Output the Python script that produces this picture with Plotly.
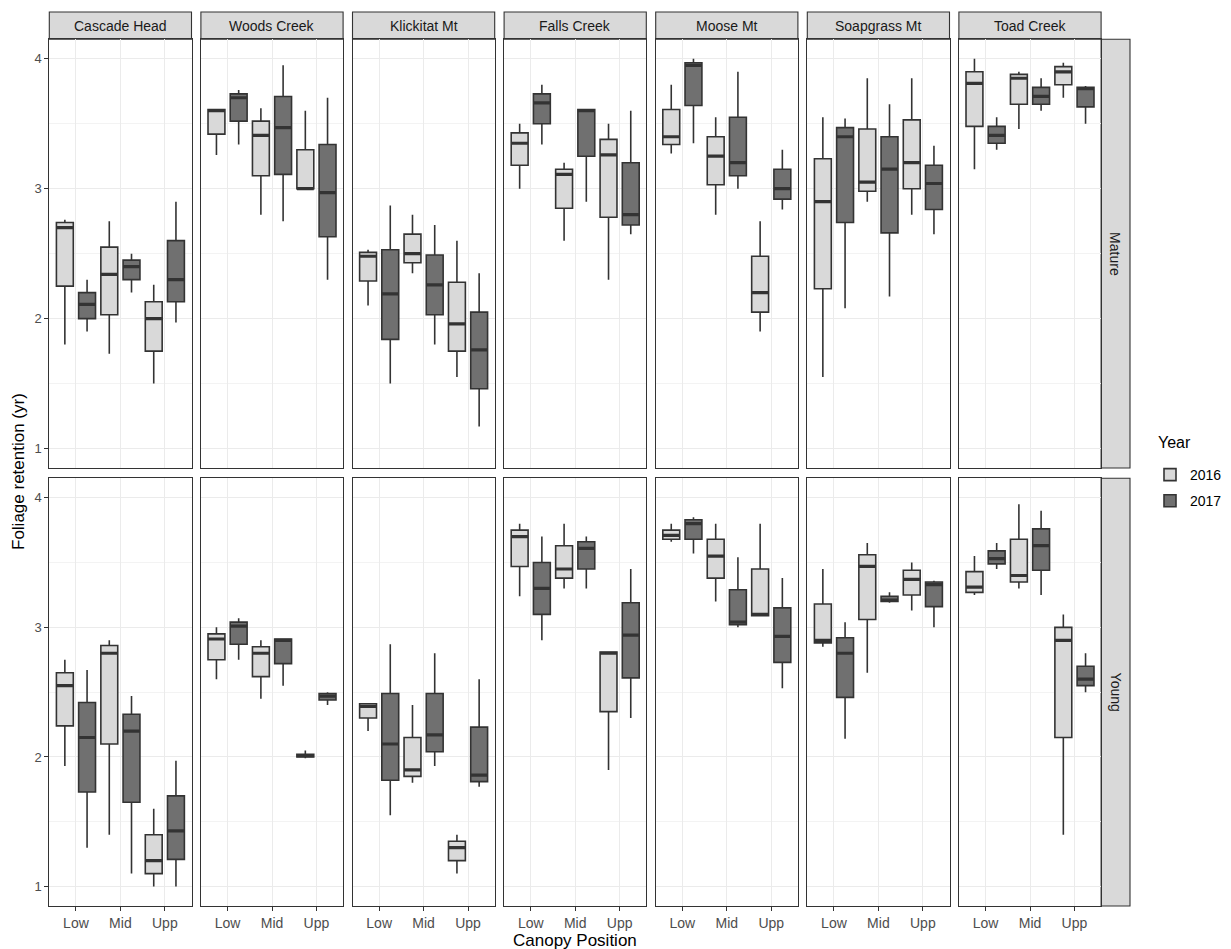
import plotly.graph_objects as go

# ---- categories -------------------------------------------------------------
SITES = ["Cascade Head", "Woods Creek", "Klickitat Mt", "Falls Creek",
         "Moose Mt", "Soapgrass Mt", "Toad Creek"]
STANDS = ["Mature", "Young"]
POSITIONS = ["Low", "Mid", "Upp"]
YEARS = ["2016", "2017"]
Y_TICKS = [1, 2, 3, 4]

# ---- box statistics: one [Low, Mid, Upp] triple per site --------------------
# Mature stands, 2016
MATURE_2016_LO = [[1.80, 1.73, 1.50], [3.26, 2.80, 3.00], [2.10, 2.35, 1.55], [3.00, 2.60, 2.30],
                  [3.27, 2.80, 1.90], [1.55, 2.90, 2.80], [3.15, 3.46, 3.70]]
MATURE_2016_Q1 = [[2.25, 2.03, 1.75], [3.42, 3.10, 3.00], [2.29, 2.43, 1.75], [3.18, 2.85, 2.78],
                  [3.34, 3.03, 2.05], [2.23, 2.98, 3.00], [3.48, 3.65, 3.80]]
MATURE_2016_MED = [[2.70, 2.34, 2.00], [3.60, 3.41, 3.00], [2.48, 2.50, 1.96], [3.35, 3.11, 3.26],
                   [3.40, 3.25, 2.20], [2.90, 3.05, 3.20], [3.81, 3.85, 3.90]]
MATURE_2016_Q3 = [[2.74, 2.55, 2.13], [3.61, 3.52, 3.30], [2.51, 2.65, 2.28], [3.43, 3.15, 3.38],
                  [3.61, 3.40, 2.48], [3.23, 3.46, 3.53], [3.90, 3.88, 3.94]]
MATURE_2016_HI = [[2.76, 2.75, 2.26], [3.61, 3.62, 3.60], [2.53, 2.80, 2.60], [3.50, 3.20, 3.50],
                  [3.80, 3.55, 2.75], [3.55, 3.85, 3.85], [4.00, 3.90, 3.97]]

# Mature stands, 2017
MATURE_2017_LO = [[1.90, 2.20, 1.97], [3.34, 2.75, 2.30], [1.50, 1.80, 1.17], [3.34, 2.90, 2.65],
                  [3.35, 3.00, 2.84], [2.08, 2.17, 2.65], [3.30, 3.60, 3.50]]
MATURE_2017_Q1 = [[2.00, 2.30, 2.13], [3.52, 3.11, 2.63], [1.84, 2.03, 1.46], [3.50, 3.25, 2.72],
                  [3.64, 3.10, 2.92], [2.74, 2.66, 2.84], [3.35, 3.65, 3.63]]
MATURE_2017_MED = [[2.11, 2.40, 2.30], [3.70, 3.47, 2.97], [2.19, 2.26, 1.76], [3.66, 3.60, 2.80],
                   [3.95, 3.20, 3.00], [3.40, 3.15, 3.04], [3.41, 3.71, 3.77]]
MATURE_2017_Q3 = [[2.20, 2.45, 2.60], [3.73, 3.71, 3.34], [2.53, 2.49, 2.05], [3.73, 3.61, 3.20],
                  [3.97, 3.55, 3.15], [3.47, 3.40, 3.18], [3.48, 3.78, 3.78]]
MATURE_2017_HI = [[2.30, 2.50, 2.90], [3.76, 3.95, 3.70], [2.87, 2.72, 2.35], [3.80, 3.61, 3.60],
                  [4.00, 3.90, 3.30], [3.54, 3.65, 3.33], [3.55, 3.85, 3.79]]

# Young stands, 2016
YOUNG_2016_LO = [[1.93, 1.40, 1.00], [2.60, 2.45, 1.99], [2.20, 1.80, 1.10], [3.24, 3.30, 1.90],
                 [3.66, 3.20, 3.09], [2.85, 2.65, 3.13], [3.25, 3.30, 1.40]]
YOUNG_2016_Q1 = [[2.24, 2.10, 1.10], [2.75, 2.62, 2.00], [2.30, 1.85, 1.20], [3.47, 3.38, 2.35],
                 [3.68, 3.38, 3.09], [2.88, 3.06, 3.25], [3.27, 3.35, 2.15]]
YOUNG_2016_MED = [[2.55, 2.80, 1.20], [2.91, 2.80, 2.01], [2.39, 1.90, 1.30], [3.70, 3.45, 2.80],
                  [3.71, 3.55, 3.10], [2.90, 3.47, 3.37], [3.31, 3.40, 2.90]]
YOUNG_2016_Q3 = [[2.65, 2.86, 1.40], [2.95, 2.85, 2.02], [2.41, 2.15, 1.35], [3.75, 3.63, 2.81],
                 [3.75, 3.68, 3.45], [3.18, 3.56, 3.44], [3.43, 3.68, 3.00]]
YOUNG_2016_HI = [[2.75, 2.90, 1.60], [3.00, 2.90, 2.05], [2.41, 2.40, 1.40], [3.80, 3.80, 2.81],
                 [3.80, 3.80, 3.80], [3.45, 3.65, 3.50], [3.55, 3.95, 3.10]]

# Young stands, 2017
YOUNG_2017_LO = [[1.30, 1.10, 1.00], [2.75, 2.55, 2.40], [1.55, 1.93, 1.77], [2.90, 3.30, 2.30],
                 [3.57, 3.00, 2.53], [2.14, 3.19, 3.00], [3.45, 3.25, 2.50]]
YOUNG_2017_Q1 = [[1.73, 1.65, 1.21], [2.87, 2.72, 2.44], [1.82, 2.04, 1.81], [3.10, 3.45, 2.61],
                 [3.68, 3.02, 2.73], [2.46, 3.20, 3.16], [3.49, 3.44, 2.55]]
YOUNG_2017_MED = [[2.15, 2.20, 1.43], [3.01, 2.90, 2.47], [2.10, 2.17, 1.86], [3.30, 3.61, 2.94],
                  [3.80, 3.04, 2.93], [2.80, 3.21, 3.33], [3.53, 3.63, 2.60]]
YOUNG_2017_Q3 = [[2.42, 2.33, 1.70], [3.04, 2.91, 2.49], [2.49, 2.49, 2.23], [3.50, 3.66, 3.19],
                 [3.83, 3.29, 3.15], [2.92, 3.24, 3.35], [3.59, 3.76, 2.70]]
YOUNG_2017_HI = [[2.67, 2.47, 1.97], [3.07, 2.91, 2.50], [2.87, 2.80, 2.60], [3.70, 3.70, 3.45],
                 [3.85, 3.54, 3.38], [3.04, 3.27, 3.36], [3.65, 3.90, 2.80]]

STATS = {
    ("Mature", "2016"): (MATURE_2016_LO, MATURE_2016_Q1, MATURE_2016_MED, MATURE_2016_Q3, MATURE_2016_HI),
    ("Mature", "2017"): (MATURE_2017_LO, MATURE_2017_Q1, MATURE_2017_MED, MATURE_2017_Q3, MATURE_2017_HI),
    ("Young", "2016"): (YOUNG_2016_LO, YOUNG_2016_Q1, YOUNG_2016_MED, YOUNG_2016_Q3, YOUNG_2016_HI),
    ("Young", "2017"): (YOUNG_2017_LO, YOUNG_2017_Q1, YOUNG_2017_MED, YOUNG_2017_Q3, YOUNG_2017_HI),
}

# ---- styling ----------------------------------------------------------------
W, H = 1231, 949
FILL = {"2016": "#D9D9D9", "2017": "#707070"}
EDGE = "#333333"
FONT = "Liberation Sans, Arial, Helvetica, sans-serif"

# panel geometry in pixels
PANEL_X0, PANEL_STEP, PANEL_W = 49.3, 151.6, 142.2
ROW_Y = [(39.3, 468.0), (478.3, 906.0)]   # top/bottom pixel edges per row
STRIP_TOP = 12.0
STRIP_RIGHT = 1130.0


def px_x(x):
    return x / W


def px_y(y):
    return (H - y) / H


fig = go.Figure()
layout = dict(
    width=W, height=H,
    margin=dict(l=0, r=0, t=0, b=0),
    paper_bgcolor="white", plot_bgcolor="white",
    boxmode="group", boxgap=0.0, boxgroupgap=0.24,
    font=dict(family=FONT, color="#000000"),
    showlegend=True,
)
shapes, annotations = [], []

for r, stand in enumerate(STANDS):
    y_top, y_bot = ROW_Y[r]
    for c, site in enumerate(SITES):
        n = r * len(SITES) + c + 1
        xa = "x" if n == 1 else f"x{n}"
        ya = "y" if n == 1 else f"y{n}"
        x0 = PANEL_X0 + c * PANEL_STEP
        x1 = x0 + PANEL_W

        for year in YEARS:
            lo, q1, med, q3, hi = STATS[(stand, year)]
            fig.add_trace(go.Box(
                x=POSITIONS, q1=q1[c], median=med[c], q3=q3[c],
                lowerfence=lo[c], upperfence=hi[c],
                name=year, legendgroup=year, showlegend=(n == 1),
                offsetgroup=year, alignmentgroup=f"g{n}",
                fillcolor=FILL[year], line=dict(color=EDGE, width=1.6),
                whiskerwidth=0, boxpoints=False,
                xaxis=xa, yaxis=ya, hoverinfo="skip",
            ))
            # heavier median bar drawn on top of each box
            fig.add_trace(go.Box(
                x=POSITIONS, q1=med[c], median=med[c], q3=med[c],
                lowerfence=med[c], upperfence=med[c],
                name=year, legendgroup=year, showlegend=False,
                offsetgroup=year, alignmentgroup=f"g{n}",
                fillcolor="rgba(0,0,0,0)", line=dict(color=EDGE, width=3.2),
                whiskerwidth=0, boxpoints=False,
                xaxis=xa, yaxis=ya, hoverinfo="skip",
            ))

        layout["xaxis" if n == 1 else f"xaxis{n}"] = dict(
            domain=[px_x(x0), px_x(x1)], anchor=ya,
            type="category", categoryorder="array", categoryarray=POSITIONS,
            range=[-0.6, 2.6],
            showgrid=True, gridcolor="#EBEBEB", gridwidth=1.1,
            showline=True, linecolor=EDGE, linewidth=1.1, mirror=True,
            zeroline=False, fixedrange=True,
            showticklabels=(r == 1),
            ticks="outside" if r == 1 else "", ticklen=4, tickcolor=EDGE, tickwidth=1.1,
            tickfont=dict(size=14, color="#4D4D4D", family=FONT),
        )
        layout["yaxis" if n == 1 else f"yaxis{n}"] = dict(
            domain=[px_y(y_bot), px_y(y_top)], anchor=xa,
            range=[0.85, 4.15], tickvals=Y_TICKS,
            showgrid=True, gridcolor="#EBEBEB", gridwidth=1.1,
            minor=dict(dtick=0.5, tick0=0.5, showgrid=True, gridcolor="#F3F3F3", gridwidth=0.7),
            showline=True, linecolor=EDGE, linewidth=1.1, mirror=True,
            zeroline=False, fixedrange=True,
            showticklabels=(c == 0),
            ticks="outside" if c == 0 else "", ticklen=4, tickcolor=EDGE, tickwidth=1.1,
            tickfont=dict(size=13, color="#4D4D4D", family=FONT),
        )

        # column strip with the site name
        if r == 0:
            shapes.append(dict(type="rect", xref="paper", yref="paper",
                               x0=px_x(x0), x1=px_x(x1), y0=px_y(y_top), y1=px_y(STRIP_TOP),
                               fillcolor="#D9D9D9", line=dict(color=EDGE, width=1.1), layer="below"))
            annotations.append(dict(text=site, xref="paper", yref="paper",
                                    x=px_x((x0 + x1) / 2), y=px_y((STRIP_TOP + y_top) / 2),
                                    showarrow=False, xanchor="center", yanchor="middle",
                                    font=dict(size=14, color="#1A1A1A", family=FONT)))

    # row strip with the stand type
    last_x1 = PANEL_X0 + (len(SITES) - 1) * PANEL_STEP + PANEL_W
    shapes.append(dict(type="rect", xref="paper", yref="paper",
                       x0=px_x(last_x1), x1=px_x(STRIP_RIGHT), y0=px_y(y_bot), y1=px_y(y_top),
                       fillcolor="#D9D9D9", line=dict(color=EDGE, width=1.1), layer="below"))
    annotations.append(dict(text=stand, xref="paper", yref="paper",
                            x=px_x((last_x1 + STRIP_RIGHT) / 2), y=px_y((y_top + y_bot) / 2),
                            showarrow=False, textangle=90, xanchor="center", yanchor="middle",
                            font=dict(size=14, color="#1A1A1A", family=FONT)))

# axis titles
annotations.append(dict(text="Canopy Position", xref="paper", yref="paper",
                        x=px_x(575), y=px_y(940), showarrow=False,
                        xanchor="center", yanchor="middle",
                        font=dict(size=17, color="#000000", family=FONT)))
annotations.append(dict(text="Foliage retention (yr)", xref="paper", yref="paper",
                        x=px_x(18), y=px_y(472), showarrow=False, textangle=-90,
                        xanchor="center", yanchor="middle",
                        font=dict(size=17, color="#000000", family=FONT)))

# legend title placed by hand so the key rows sit a little lower
annotations.append(dict(text="Year", xref="paper", yref="paper",
                        x=px_x(1156), y=px_y(443), showarrow=False,
                        xanchor="left", yanchor="middle",
                        font=dict(size=16, color="#000000", family=FONT)))

layout["shapes"] = shapes
layout["annotations"] = annotations
layout["legend"] = dict(
    font=dict(size=14, color="#000000", family=FONT),
    x=px_x(1150), xanchor="left", y=px_y(459), yanchor="top",
    bgcolor="rgba(0,0,0,0)", tracegroupgap=5, itemwidth=30,
)

fig.update_layout(**layout)
fig.write_html("out.html")
